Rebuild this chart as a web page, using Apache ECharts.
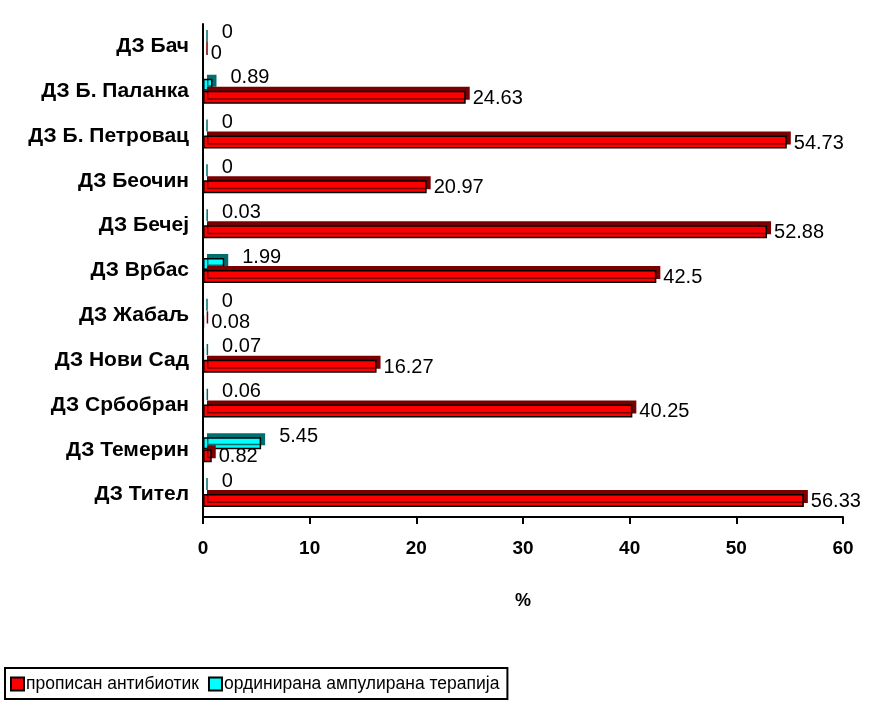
<!DOCTYPE html>
<html>
<head>
    <meta charset="UTF-8">
    <title>Антибиотици</title>
    <script type="text/javascript" src="https://cdn.jsdelivr.net/npm/echarts@6/dist/echarts.min.js"></script>
    <style>
        body { margin: 0; background: #fff; }
        #main { width: 869px; height: 709px; }
    </style>
</head>
<body>
<div id="main"></div>
<script type="text/javascript">
    // категорије (одозго надоле)
    var categories = ['ДЗ Бач', 'ДЗ Б. Паланка', 'ДЗ Б. Петровац', 'ДЗ Беочин', 'ДЗ Бечеј', 'ДЗ Врбас',
        'ДЗ Жабаљ', 'ДЗ Нови Сад', 'ДЗ Србобран', 'ДЗ Темерин', 'ДЗ Тител'];
    var antibiotik = [0, 24.63, 54.73, 20.97, 52.88, 42.5, 0.08, 16.27, 40.25, 0.82, 56.33];
    var ampulirana = [0, 0.89, 0, 0, 0.03, 1.99, 0, 0.07, 0.06, 5.45, 0];
    var xTicks = [0, 10, 20, 30, 40, 50, 60];

    var font = 'Arial, "Liberation Sans", sans-serif';
    var myChart = echarts.init(document.getElementById('main'));
    myChart.setOption({
        animation: false,
        textStyle: { fontFamily: font },
        grid: { left: 203, right: 26, top: 24, bottom: 192 },
        legend: {
            left: 5, top: 668,
            padding: [7, 8, 6, 5],
            borderColor: '#000', borderWidth: 2,
            itemWidth: 13, itemHeight: 13, itemGap: 9,
            icon: 'rect',
            textStyle: { fontSize: 17.5, color: '#000', fontFamily: font, padding: [0, 0, 0, -3] },
            data: ['прописан антибиотик', 'ординирана ампулирана терапија']
        },
        xAxis: {
            type: 'value',
            min: xTicks[0], max: xTicks[xTicks.length - 1], interval: 10,
            name: '%', nameLocation: 'middle', nameGap: 75,
            nameTextStyle: { fontSize: 18, fontWeight: 'bold', color: '#000' },
            axisLine: { show: true, lineStyle: { color: '#000', width: 2 } },
            axisTick: { show: true, length: 7, lineStyle: { color: '#000', width: 2 } },
            axisLabel: { fontSize: 19, fontWeight: 'bold', color: '#000', margin: 22 },
            splitLine: { show: false }
        },
        yAxis: {
            type: 'category',
            inverse: true,
            data: categories,
            axisLine: { lineStyle: { color: '#000', width: 2 } },
            axisTick: { length: 7, lineStyle: { color: '#000', width: 2 } },
            axisLabel: { fontSize: 21, fontWeight: 'bold', color: '#000', margin: 14 }
        },
        series: [
            {
                name: 'ординирана ампулирана терапија',
                type: 'bar',
                data: ampulirana,
                barWidth: 12,
                barGap: '0%',
                itemStyle: {
                    color: '#00ffff', borderColor: '#000', borderWidth: 1.5,
                    shadowColor: '#006f6f', shadowOffsetX: 4, shadowOffsetY: -4, shadowBlur: 0
                },
                label: {
                    show: true, position: 'right', distance: 18, offset: [0, -7],
                    fontSize: 20, color: '#000'
                }
            },
            {
                name: 'прописан антибиотик',
                type: 'bar',
                data: antibiotik,
                barWidth: 13,
                itemStyle: {
                    color: '#ff0000', borderColor: '#000', borderWidth: 1.5,
                    shadowColor: '#7a0000', shadowOffsetX: 4, shadowOffsetY: -4, shadowBlur: 0
                },
                label: {
                    show: true, position: 'right', distance: 7, offset: [0, 1],
                    fontSize: 20, color: '#000'
                }
            }
        ]
    });
</script>
</body>
</html>
